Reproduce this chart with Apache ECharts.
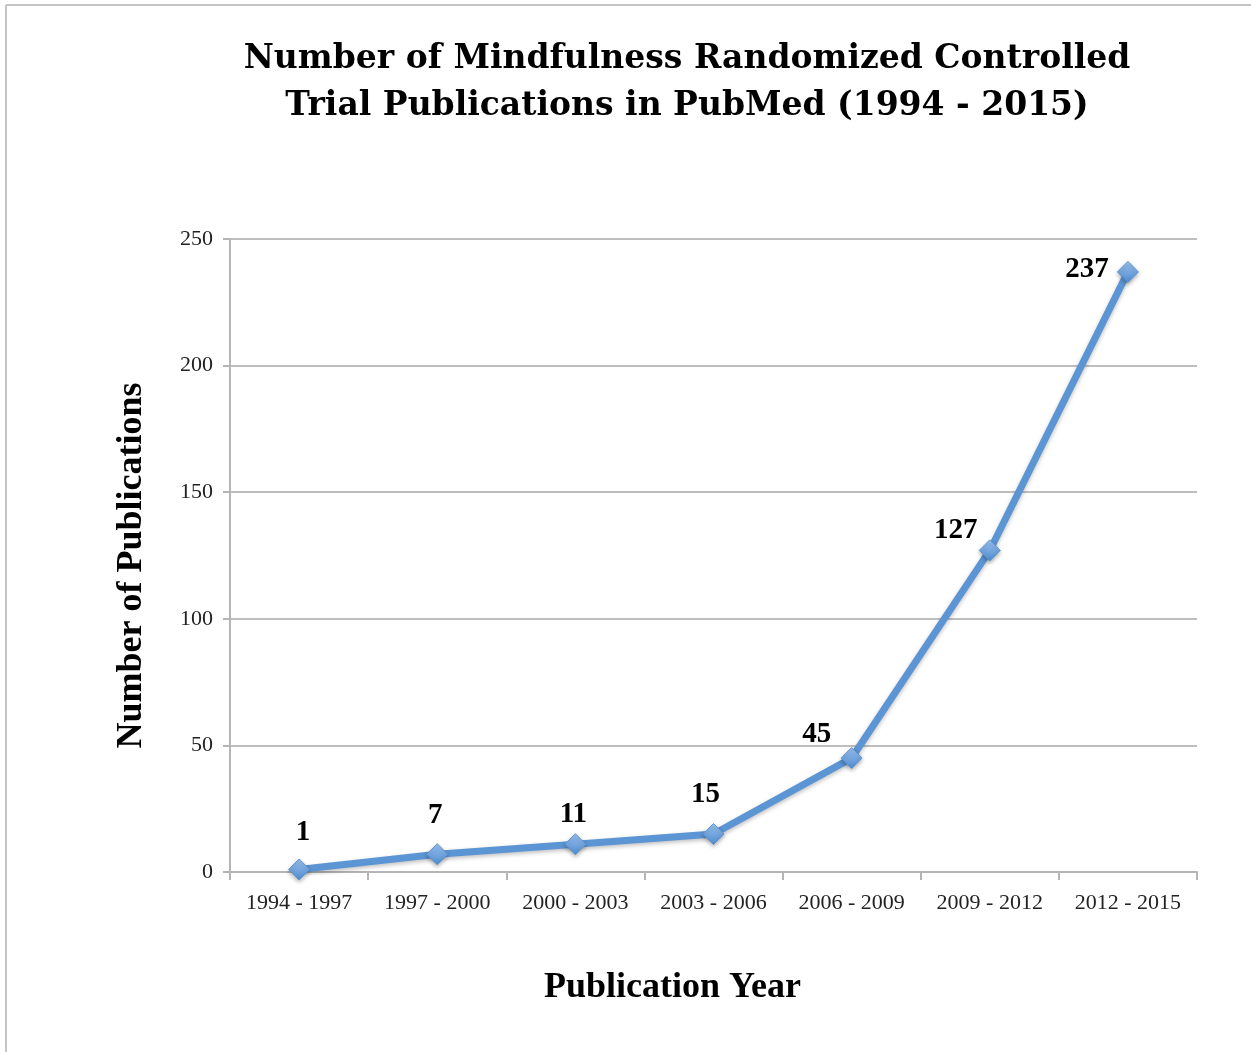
<!DOCTYPE html>
<html>
<head>
<meta charset="utf-8">
<script src="https://cdn.jsdelivr.net/npm/echarts@6/dist/echarts.min.js"></script>
<style>
  html, body { margin: 0; padding: 0; background: #fff; }
  #main { width: 1251px; height: 1052px; }
</style>
</head>
<body>
<div id="main"></div>
<script>
var chartDom = document.getElementById('main');
var myChart = echarts.init(chartDom);
var option;

var periods = ['1994 - 1997', '1997 - 2000', '2000 - 2003', '2003 - 2006', '2006 - 2009', '2009 - 2012', '2012 - 2015'];
var publications = [1, 7, 11, 15, 45, 127, 237];
var yTicks = [0, 50, 100, 150, 200, 250];

// label nudges so the numbers sit up-left of the points like the original
var labelShift = [[4, -7], [-2, -9], [-2, 0], [-8, -10], [-35, 6], [-34, 10], [-41, 27]];

var seriesData = publications.map(function (v, i) {
  return {
    value: v,
    label: { offset: labelShift[i] }
  };
});

option = {
  animation: false,
  title: {
    text: 'Number of Mindfulness Randomized Controlled\nTrial Publications in PubMed (1994 - 2015)',
    left: 682,
    textAlign: 'center',
    top: 31,
    textStyle: {
      fontFamily: 'DejaVu Serif',
      fontWeight: 'bold',
      fontSize: 33,
      lineHeight: 47,
      color: '#000'
    }
  },
  graphic: [
    { type: 'line', shape: { x1: 6, y1: 5, x2: 1251, y2: 5 }, style: { stroke: '#c4c4c4', lineWidth: 2 } },
    { type: 'line', shape: { x1: 6, y1: 5, x2: 6, y2: 1052 }, style: { stroke: '#c4c4c4', lineWidth: 2 } }
  ],
  grid: { left: 230, right: 54, top: 239, bottom: 180 },
  xAxis: {
    type: 'category',
    data: periods,
    boundaryGap: true,
    name: 'Publication Year',
    nameLocation: 'middle',
    nameGap: 98,
    nameTextStyle: { fontFamily: 'Liberation Serif', fontWeight: 'bold', fontSize: 36, color: '#000', padding: [0, 82, 0, 0] },
    axisLine: { lineStyle: { color: '#b5b5b5', width: 2 } },
    axisTick: { show: true, interval: 0, length: 8, lineStyle: { color: '#b5b5b5', width: 2 } },
    axisLabel: { interval: 0, hideOverlap: false, fontFamily: 'Liberation Serif', fontSize: 22, color: '#222', margin: 20 }
  },
  yAxis: {
    type: 'value',
    min: 0,
    max: 250,
    interval: 50,
    name: 'Number of Publications',
    nameLocation: 'middle',
    nameGap: 80,
    nameTextStyle: { fontFamily: 'Liberation Serif', fontWeight: 'bold', fontSize: 36, color: '#000', padding: [0, 20, 0, 0] },
    axisLine: { show: true, lineStyle: { color: '#b5b5b5', width: 2 } },
    axisTick: { show: true, length: 7, inside: false, lineStyle: { color: '#b5b5b5', width: 2 } },
    axisLabel: {
      fontFamily: 'Liberation Serif', fontSize: 22, color: '#222', margin: 17,
      formatter: function (v) { return yTicks.indexOf(v) >= 0 ? String(v) : ''; }
    },
    splitLine: { lineStyle: { color: '#a8a8a8', width: 1.5 } }
  },
  series: [
    {
      type: 'line',
      data: seriesData,
      symbol: 'diamond',
      symbolSize: 21,
      lineStyle: {
        color: '#5b95d3',
        width: 7,
        shadowColor: 'rgba(0,0,0,0.25)',
        shadowBlur: 4,
        shadowOffsetY: 2
      },
      itemStyle: {
        color: new echarts.graphic.LinearGradient(0, 0, 0, 1, [
          { offset: 0, color: '#9cc2ef' },
          { offset: 1, color: '#4f8bd0' }
        ]),
        borderColor: '#5b95d3',
        borderWidth: 1,
        shadowColor: 'rgba(0,0,0,0.3)',
        shadowBlur: 4,
        shadowOffsetY: 2
      },
      label: {
        show: true,
        position: 'top',
        distance: 4,
        fontFamily: 'Liberation Serif',
        fontWeight: 'bold',
        fontSize: 29,
        color: '#000'
      }
    }
  ]
};

option && myChart.setOption(option);
</script>
</body>
</html>
